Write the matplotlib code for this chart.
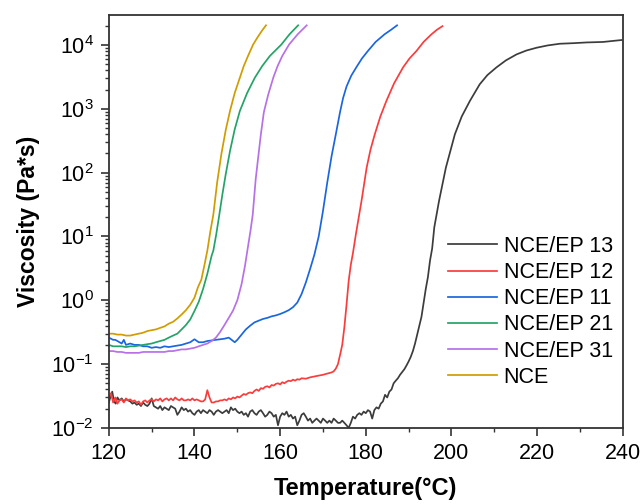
import matplotlib
matplotlib.use('Agg')
from matplotlib import pyplot as plt
from matplotlib.ticker import LogLocator, MultipleLocator, NullFormatter

# NCE/EP 13 (dark grey)
t_13 = [120, 120.4, 120.8, 121.2, 121.6, 122, 122.5, 123, 123.5, 124, 124.5, 125, 125.5, 126, 126.5,
        127, 127.5, 128, 128.5, 129, 129.5, 130, 130.5, 131, 131.5, 132, 132.5, 133, 133.5, 134,
        134.5, 135, 135.5, 136, 136.5, 137, 137.5, 138, 138.5, 139, 139.5, 140, 140.5, 141, 141.5,
        142, 142.5, 143, 143.5, 144, 144.5, 145, 145.5, 146, 146.5, 147, 147.5, 148, 148.5, 149,
        149.5, 150, 150.5, 151, 151.5, 152, 152.5, 153, 153.5, 154, 154.5, 155, 155.5, 156, 156.5,
        157, 157.5, 158, 158.5, 159, 159.5, 160, 160.5, 161, 161.5, 162, 162.5, 163, 163.5, 164,
        164.5, 165, 165.5, 166, 166.5, 167, 167.5, 168, 168.5, 169, 169.5, 170, 170.5, 171, 171.5,
        172, 172.5, 173, 173.5, 174, 174.5, 175, 175.5, 176, 176.5, 177, 177.5, 178, 178.5, 179,
        179.5, 180, 180.5, 181, 181.5, 182, 182.5, 183, 183.5, 184, 184.5, 185, 185.5, 186, 186.5,
        187, 187.5, 188, 188.5, 189, 189.5, 190, 190.5, 191, 191.5, 192, 192.5, 193, 193.5, 194,
        194.5, 195, 195.5, 196, 197.1, 198.7, 200.8, 202.4, 204.3, 206.6, 208.4, 210.5, 212.7,
        215.2, 217.5, 219.9, 222.5, 225.3, 228.5, 231.5, 235.4, 239.7]
v_13 = [0.025, 0.031, 0.037, 0.026, 0.024, 0.030, 0.027, 0.029, 0.026, 0.028, 0.027, 0.026, 0.024,
        0.025, 0.023, 0.024, 0.022, 0.025, 0.023, 0.022, 0.024, 0.029, 0.022, 0.021, 0.020, 0.022,
        0.019, 0.021, 0.020, 0.019, 0.022, 0.021, 0.020, 0.016, 0.018, 0.021, 0.019, 0.020, 0.018,
        0.019, 0.017, 0.016, 0.018, 0.019, 0.017, 0.019, 0.018, 0.017, 0.019, 0.018, 0.016, 0.018,
        0.019, 0.018, 0.017, 0.018, 0.019, 0.017, 0.021, 0.019, 0.020, 0.018, 0.017, 0.018, 0.016,
        0.017, 0.015, 0.018, 0.019, 0.017, 0.016, 0.018, 0.019, 0.017, 0.015, 0.016, 0.018, 0.017,
        0.015, 0.016, 0.011, 0.015, 0.017, 0.016, 0.018, 0.015, 0.016, 0.014, 0.015, 0.011, 0.013,
        0.016, 0.017, 0.015, 0.013, 0.014, 0.012, 0.013, 0.014, 0.013, 0.012, 0.014, 0.013, 0.012,
        0.013, 0.012, 0.014, 0.013, 0.012, 0.012, 0.013, 0.012, 0.011, 0.010, 0.012, 0.015, 0.014,
        0.016, 0.017, 0.016, 0.018, 0.017, 0.019, 0.018, 0.014, 0.019, 0.021, 0.020, 0.024, 0.026,
        0.033, 0.030, 0.037, 0.040, 0.050, 0.055, 0.060, 0.068, 0.075, 0.083, 0.095, 0.11, 0.13,
        0.16, 0.21, 0.29, 0.40, 0.55, 0.9, 1.5, 2.3, 4.2, 6.5, 14, 36, 120, 400, 760, 1330, 2430,
        3390, 4470, 5750, 7150, 8220, 9100, 9890, 10500, 10720, 11000, 11200, 12000]

# NCE/EP 12 (red)
t_12 = [120, 120.5, 121, 121.5, 122, 122.5, 123, 123.5, 124, 124.5, 125, 125.5, 126, 126.5, 127,
        127.5, 128, 128.5, 129, 129.5, 130, 130.5, 131, 131.5, 132, 132.5, 133, 133.5, 134, 134.5,
        135, 135.5, 136, 136.5, 137, 137.5, 138, 138.5, 139, 139.5, 140, 140.5, 141, 141.5, 142,
        142.5, 143, 143.5, 144, 144.5, 145, 145.5, 146, 146.5, 147, 147.5, 148, 148.5, 149, 149.5,
        150, 150.5, 151, 151.5, 152, 152.5, 153, 153.5, 154, 154.5, 155, 155.5, 156, 156.5, 157,
        157.5, 158, 158.5, 159, 159.5, 160, 160.5, 161, 161.5, 162, 162.5, 163, 163.5, 164, 164.5,
        165, 166, 167, 168, 169, 170, 171, 172, 172.5, 173, 173.5, 174, 174.5, 175, 175.5, 176,
        176.5, 177, 177.7, 179, 180.2, 181.1, 182.1, 183.4, 184.8, 186.6, 188.7, 190.2, 191.8,
        193.5, 195.3, 196.6, 197.9]
v_12 = [0.029, 0.035, 0.025, 0.030, 0.024, 0.027, 0.028, 0.025, 0.029, 0.027, 0.028, 0.026, 0.027,
        0.025, 0.026, 0.023, 0.026, 0.027, 0.025, 0.027, 0.028, 0.026, 0.028, 0.027, 0.029, 0.026,
        0.028, 0.029, 0.027, 0.029, 0.027, 0.030, 0.028, 0.027, 0.029, 0.027, 0.027, 0.028, 0.027,
        0.029, 0.027, 0.028, 0.027, 0.026, 0.026, 0.028, 0.039, 0.030, 0.025, 0.025, 0.026, 0.026,
        0.027, 0.027, 0.028, 0.027, 0.029, 0.028, 0.030, 0.029, 0.031, 0.030, 0.032, 0.034, 0.033,
        0.035, 0.036, 0.035, 0.038, 0.040, 0.038, 0.042, 0.041, 0.044, 0.045, 0.043, 0.047, 0.046,
        0.049, 0.050, 0.048, 0.052, 0.050, 0.053, 0.055, 0.054, 0.057, 0.055, 0.058, 0.057, 0.060,
        0.059, 0.062, 0.064, 0.066, 0.068, 0.071, 0.074, 0.077, 0.085, 0.10, 0.14, 0.20, 0.38,
        0.85, 2.0, 3.6, 5.5, 11, 36, 120, 230, 400, 760, 1330, 2510, 4470, 6170, 8050, 11220,
        14700, 17380, 19800]

# NCE/EP 11 (blue)
t_11 = [120, 120.5, 121, 121.5, 122, 122.5, 123, 123.5, 124, 125, 126, 127, 128, 129, 130, 131,
        132, 133, 134, 135, 136, 137, 138, 139, 140, 141, 142, 143, 144, 145, 146, 147, 148, 148.5,
        149.4, 150, 151, 152, 153, 154, 155, 156, 157, 158, 159, 160, 161, 162, 163, 164, 165, 166,
        167, 168, 169, 170, 171, 172, 173, 174, 174.7, 175.5, 176.6, 177.8, 179.1, 180.5, 182.3,
        184.4, 185.9, 187.3]
v_11 = [0.26, 0.25, 0.24, 0.24, 0.23, 0.22, 0.21, 0.24, 0.20, 0.21, 0.20, 0.20, 0.19, 0.19, 0.18,
        0.185, 0.18, 0.19, 0.185, 0.19, 0.195, 0.20, 0.21, 0.22, 0.245, 0.22, 0.22, 0.23, 0.235,
        0.24, 0.245, 0.25, 0.26, 0.245, 0.22, 0.24, 0.29, 0.35, 0.40, 0.45, 0.48, 0.51, 0.53, 0.56,
        0.58, 0.61, 0.65, 0.70, 0.78, 0.92, 1.25, 1.9, 3.1, 5.2, 10, 25, 70, 180, 400, 900, 1480,
        2240, 3310, 4500, 6170, 8100, 11220, 14800, 17380, 20400]

# NCE/EP 21 (green)
t_21 = [120, 121, 122, 123, 124, 125, 126, 127, 128, 129, 130, 131, 132, 133, 134, 135, 136, 137,
        138, 139, 140, 141, 142, 143, 144, 144.4, 145.1, 145.8, 146.5, 147.3, 148.3, 149.4, 150.6,
        152.3, 154.1, 155.8, 157.6, 160.3, 162.2, 164.2]
v_21 = [0.20, 0.19, 0.19, 0.19, 0.185, 0.19, 0.19, 0.195, 0.20, 0.205, 0.21, 0.22, 0.23, 0.24,
        0.26, 0.28, 0.30, 0.35, 0.41, 0.50, 0.68, 0.95, 1.5, 2.6, 5, 6, 11, 22, 45, 95, 220, 480,
        930, 1780, 3090, 4680, 6760, 10230, 14800, 20400]

# NCE/EP 31 (purple)
t_31 = [120, 121, 122, 123, 124, 125, 126, 127, 128, 129, 130, 131, 132, 133, 134, 135, 136, 137,
        138, 139, 140, 141, 142, 143, 144, 145, 146, 147, 148, 149, 150, 151, 151.8, 152.5, 153.1,
        153.6, 154.3, 154.9, 155.5, 156.2, 157.2, 158.4, 159.4, 160.5, 162.1, 164.1, 166.2]
v_31 = [0.16, 0.16, 0.155, 0.155, 0.15, 0.15, 0.15, 0.15, 0.155, 0.155, 0.155, 0.155, 0.155, 0.155,
        0.16, 0.16, 0.165, 0.17, 0.17, 0.175, 0.18, 0.19, 0.20, 0.21, 0.23, 0.26, 0.32, 0.41, 0.53,
        0.69, 1.0, 1.8, 3.5, 7, 12.6, 22, 80, 180, 400, 890, 1660, 3090, 4680, 6760, 10230, 14800,
        20400]

# NCE (gold)
t_nce = [120, 121, 122, 123, 124, 125, 126, 127, 128, 129, 130, 131, 132, 133, 134, 135, 136, 137,
         138, 139, 140, 140.8, 141.6, 142.3, 143, 143.7, 144.4, 145.3, 146.3, 147.3, 148.3, 149.4,
         150.6, 151.5, 152.5, 153.7, 154.8, 155.8, 156.7]
v_nce = [0.30, 0.30, 0.29, 0.29, 0.28, 0.28, 0.29, 0.30, 0.31, 0.33, 0.34, 0.35, 0.37, 0.39, 0.43,
         0.46, 0.52, 0.60, 0.70, 0.85, 1.1, 1.6, 2.1, 3.5, 6, 12, 22, 71, 200, 468, 933, 1780,
         3090, 4680, 6760, 10230, 13490, 16980, 20420]

series = [
    ('NCE/EP 13', t_13, v_13, '#3c3c3c'),
    ('NCE/EP 12', t_12, v_12, '#fa3c3c'),
    ('NCE/EP 11', t_11, v_11, '#1a66e0'),
    ('NCE/EP 21', t_21, v_21, '#23a466'),
    ('NCE/EP 31', t_31, v_31, '#b670e8'),
    ('NCE', t_nce, v_nce, '#d09c00'),
]

plt.rcParams['font.family'] = ['Liberation Sans', 'DejaVu Sans']
plt.rcParams['mathtext.default'] = 'regular'

fig = plt.figure(figsize=(6.44, 5.04), dpi=100)
ax = fig.add_axes([0.169, 0.151, 0.798, 0.819])

for name, t, v, c in series:
    ax.plot(t, v, color=c, lw=1.25, label=name)

ax.set_yscale('log')
ax.set_xlim(120, 240)
ax.set_ylim(0.01, 2.95e4)
ax.xaxis.set_major_locator(MultipleLocator(20))
ax.xaxis.set_minor_locator(MultipleLocator(10))
ax.yaxis.set_major_locator(LogLocator(base=10, numticks=20))
ax.yaxis.set_minor_locator(LogLocator(base=10, subs=range(2, 10), numticks=20))
ax.yaxis.set_minor_formatter(NullFormatter())

for s in ax.spines.values():
    s.set_linewidth(1.3)
    s.set_color('#333333')
ax.tick_params(which='major', direction='out', length=6, width=1.2, labelsize=15.5,
               color='#333333', pad=5)
ax.tick_params(which='minor', direction='out', length=3, width=1.0, color='#333333')

ax.set_xlabel('Temperature(°C)', fontsize=17, fontweight='bold', labelpad=9)
ax.set_ylabel('Viscosity (Pa*s)', fontsize=16.5, fontweight='bold', labelpad=8)

ax.legend(loc='upper left', bbox_to_anchor=(0.695, 0.532), bbox_transform=fig.transFigure,
          frameon=False, fontsize=15.5, handlelength=2.3, handletextpad=0.3, labelspacing=0.24,
          borderpad=0, borderaxespad=0)

fig.savefig('out.png', dpi=100)
